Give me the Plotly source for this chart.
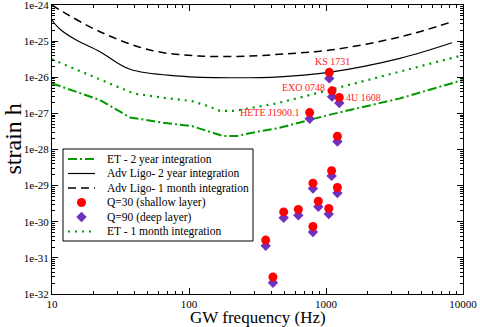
import numpy as np
import plotly.graph_objects as go

# sensitivity curves (GW frequency in Hz, strain)
ligo2y_f = [10, 11.4, 14.7, 22.4, 37.1, 85.9, 199, 461, 1052, 3467, 8318]
ligo2y_h = [3.84e-25, 2.16e-25, 1.12e-25, 5.08e-26, 1.66e-26, 1.08e-26, 9.7e-27, 1.03e-26, 1.37e-26, 3.34e-26, 9.0e-26]

ligo1m_f = [10, 11.4, 22.4, 51.9, 120, 279, 486, 1069, 3467, 8318]
ligo1m_h = [1.0e-24, 7.3e-25, 1.82e-25, 5.66e-26, 3.86e-26, 3.86e-26, 4.4e-26, 5.66e-26, 1.3e-25, 3.44e-25]

et1m_f = [10, 22.4, 39.2, 64.9, 105, 135, 168, 217, 312, 437, 1052, 3467, 10000]
et1m_h = [3.13e-26, 8.9e-27, 3.58e-27, 2.7e-27, 2.19e-27, 1.63e-27, 1.18e-27, 1.18e-27, 1.52e-27, 1.89e-27, 4.4e-27, 1.42e-26, 4.1e-26]

et2y_f = [10, 22.4, 37.1, 64.9, 105, 135, 178, 223, 312, 437, 1052, 3467, 10000]
et2y_h = [6.78e-27, 2.33e-27, 7.7e-28, 5.5e-28, 4.45e-28, 3.3e-28, 2.35e-28, 2.35e-28, 3.09e-28, 3.84e-28, 9.1e-28, 2.6e-27, 8.4e-27]

# sources
src_f = [1057, 1107, 1250, 760, 1211, 1099, 803, 1211, 879, 1048, 628, 491, 803, 363, 410]
h_q30 = [1.37e-26, 4.2e-27, 2.77e-27, 1.05e-27, 2.34e-28, 2.6e-29, 1.17e-29, 8.9e-30,
         3.7e-30, 2.34e-30, 2.2e-30, 1.87e-30, 7.4e-31, 3.1e-31, 2.95e-32]
h_q90 = [9.3e-27, 2.9e-27, 1.94e-27, 7.1e-28, 1.67e-28, 1.86e-29, 8.3e-30, 6.2e-30,
         2.6e-30, 1.63e-30, 1.51e-30, 1.29e-30, 5.2e-31, 2.15e-31, 2.05e-32]

labels = ["KS 1731", "EXO 0748", "4U 1608", "HETE J1900.1"]

x_ticks = [10, 100, 1000, 10000]
x_ticktext = ["10", "100", "1000", "10000"]
y_ticks = [1e-24, 1e-25, 1e-26, 1e-27, 1e-28, 1e-29, 1e-30, 1e-31, 1e-32]
y_ticktext = ["1e-24", "1e-25", "1e-26", "1e-27", "1e-28", "1e-29", "1e-30", "1e-31", "1e-32"]

legend_names = ["ET - 2 year integration", "Adv Ligo- 2 year integration", "Adv Ligo- 1 month integration",
                "Q=30 (shallow layer)", "Q=90 (deep layer)", "ET - 1 month integration"]

FONT = "Liberation Serif"
GREEN = "#009a00"
RED = "#ff0000"
PURPLE = "#7030c0"

styles = {
    "et2y": dict(color=GREEN, width=2, dash="9px,3px,2px,3px"),
    "ligo2y": dict(color="black", width=1.2),
    "ligo1m": dict(color="black", width=1.5, dash="8px,5px"),
    "et1m": dict(color=GREEN, width=2.2, dash="2px,5px"),
}
q30_marker = dict(symbol="circle", size=9, color=RED)
q90_marker = dict(symbol="diamond", size=8, color=PURPLE)

fig = go.Figure()

fig.add_trace(go.Scatter(x=et2y_f, y=et2y_h, mode="lines", line=styles["et2y"]))
fig.add_trace(go.Scatter(x=ligo2y_f, y=ligo2y_h, mode="lines", line=dict(styles["ligo2y"], shape="spline")))
fig.add_trace(go.Scatter(x=ligo1m_f, y=ligo1m_h, mode="lines", line=dict(styles["ligo1m"], shape="spline")))
fig.add_trace(go.Scatter(x=et1m_f, y=et1m_h, mode="lines", line=styles["et1m"]))
fig.add_trace(go.Scatter(x=src_f, y=h_q90, mode="markers", marker=q90_marker))
fig.add_trace(go.Scatter(x=src_f, y=h_q30, mode="markers", marker=q30_marker))

# source names next to the first four points
label_style = [
    dict(xanchor="center", yanchor="bottom", xshift=3, yshift=3),
    dict(xanchor="right", yanchor="middle", xshift=-5, yshift=3),
    dict(xanchor="left", yanchor="middle", xshift=5, yshift=0),
    dict(xanchor="right", yanchor="middle", xshift=-9, yshift=0),
]
for i, name in enumerate(labels):
    fig.add_annotation(x=np.log10(src_f[i]), y=np.log10(h_q30[i]), text=name, showarrow=False,
                       font=dict(family=FONT, size=10, color="#ff2020"), **label_style[i])

# compact grace-style legend, drawn on a pixel-unit overlay of the plot area
box_x0, box_x1, box_y0, box_y1 = 11, 201, 144, 236
row_y = [154, 168.5, 183, 197.5, 212, 226.5]
key_x0, key_x1, text_x = 16, 43, 53
fig.add_trace(go.Scatter(x=[box_x0, box_x1, box_x1, box_x0, box_x0], y=[box_y0, box_y0, box_y1, box_y1, box_y0],
                         xaxis="x2", yaxis="y2", mode="lines", fill="toself", fillcolor="white",
                         line=dict(color="black", width=1)))
for key, row in zip(["et2y", "ligo2y", "ligo1m", None, None, "et1m"], row_y):
    if key:
        fig.add_trace(go.Scatter(x=[key_x0, key_x1], y=[row, row], xaxis="x2", yaxis="y2",
                                 mode="lines", line=styles[key]))
fig.add_trace(go.Scatter(x=[(key_x0 + key_x1) / 2], y=[row_y[3]], xaxis="x2", yaxis="y2",
                         mode="markers", marker=q30_marker))
fig.add_trace(go.Scatter(x=[(key_x0 + key_x1) / 2], y=[row_y[4]], xaxis="x2", yaxis="y2",
                         mode="markers", marker=q90_marker))
for name, row in zip(legend_names, row_y):
    fig.add_annotation(xref="x2", yref="y2", x=text_x, y=row, text=name, showarrow=False,
                       xanchor="left", yanchor="middle", font=dict(family=FONT, size=11.5, color="black"))

fig.add_annotation(xref="paper", yref="paper", x=-0.095, y=0.538, text="strain h", textangle=-90,
                   showarrow=False, xanchor="center", yanchor="middle",
                   font=dict(family=FONT, size=24, color="black"))
fig.add_annotation(xref="paper", yref="paper", x=0.5, y=-0.083, text="GW frequency (Hz)",
                   showarrow=False, xanchor="center", yanchor="middle",
                   font=dict(family=FONT, size=17, color="black"))

minor_vals = [m * 10.0 ** e for e in range(-33, 5) for m in range(2, 10)]

axis_common = dict(type="log", showgrid=False, zeroline=False, showline=True, linecolor="black",
                   linewidth=1, mirror="allticks", ticks="inside", ticklen=6, tickcolor="black",
                   automargin=False, ticklabeloverflow="allow",
                   tickfont=dict(family=FONT, size=11, color="black"),
                   minor=dict(tickmode="array", tickvals=minor_vals, ticks="inside", ticklen=3,
                              tickcolor="black", showgrid=False))

fig.update_xaxes(range=[0.9999, 4.0001], tickvals=x_ticks, ticktext=x_ticktext, **axis_common)
fig.update_yaxes(range=[-32.0001, -23.9999], tickvals=y_ticks, ticktext=y_ticktext, **axis_common)

fig.update_layout(
    width=480, height=327,
    margin=dict(l=52, r=17, t=5, b=33),
    plot_bgcolor="white", paper_bgcolor="white",
    font=dict(family=FONT, color="black"),
    showlegend=False,
    xaxis2=dict(overlaying="x", range=[0, 411], visible=False, fixedrange=True),
    yaxis2=dict(overlaying="y", range=[289, 0], visible=False, fixedrange=True),
)

# the page's default body margin would shift the figure by 8px
fig.write_html("out.html", config={"displayModeBar": False},
               post_script="document.body.style.margin='0';")
